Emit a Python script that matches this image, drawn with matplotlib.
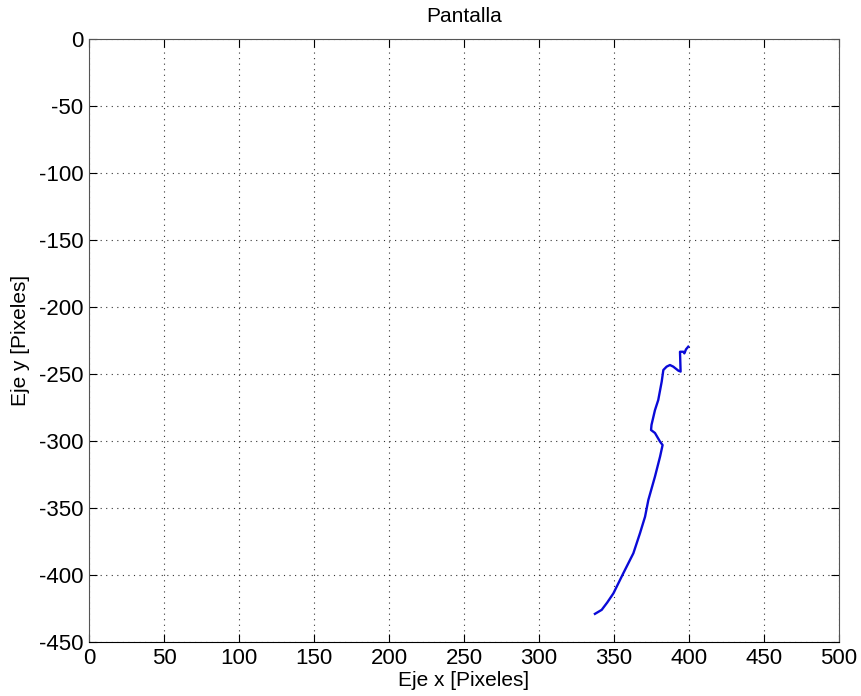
import matplotlib
matplotlib.use("Agg")
import matplotlib.pyplot as plt

x_px = [337.3, 341.8, 345.5, 349.6, 356.2, 362.9, 367.3, 370.7, 372.9, 377.3, 380.7,
        382.4, 380.7, 377.3, 374.7, 375.0, 377.3, 379.5, 381.8, 382.9, 385.1,
        387.3, 389.5, 392.9, 394.4, 394.0, 396.2, 396.9, 398.0, 399.5]
y_px = [-429.0, -426.0, -420.5, -413.7, -398.7, -383.8, -368.9, -356.5, -344.0, -326.6, -311.7,
        -303.0, -300.5, -294.0, -291.8, -288.0, -277.0, -269.4, -255.7, -247.0, -244.5,
        -243.3, -244.5, -247.5, -248.2, -233.4, -233.4, -234.6, -231.6, -229.6]

xticks = [0, 50, 100, 150, 200, 250, 300, 350, 400, 450, 500]
yticks = [0, -50, -100, -150, -200, -250, -300, -350, -400, -450]

plt.rcParams['font.family'] = ['Liberation Sans', 'DejaVu Sans']
plt.rcParams['axes.unicode_minus'] = False

fig = plt.figure(figsize=(8.61, 6.96), dpi=100)
ax = fig.add_axes([89/861, 1-642/696, 750/861, 603/696])
ax.plot(x_px, y_px, color='#0a0ad8', linewidth=1.7)
ax.set_xlim(0, 500)
ax.set_ylim(-450, 0)
ax.set_xticks(xticks)
ax.set_yticks(yticks)
ax.grid(True, linestyle=(0, (1, 4)), color='#333333', linewidth=0.8)
ax.tick_params(direction='in', top=True, right=True, labelsize=16, length=6, width=0.8, pad=4)
for s in ax.spines.values():
    s.set_linewidth(0.8)
ax.spines['left'].set_color('#555555')
ax.spines['top'].set_color('#555555')
ax.spines['right'].set_color('#555555')
ax.set_title('Pantalla', fontsize=15, pad=12)
ax.set_xlabel('Eje x [Pixeles]', fontsize=15, labelpad=2)
ax.set_ylabel('Eje y [Pixeles]', fontsize=15, labelpad=6)
fig.savefig('out.png', dpi=100)
